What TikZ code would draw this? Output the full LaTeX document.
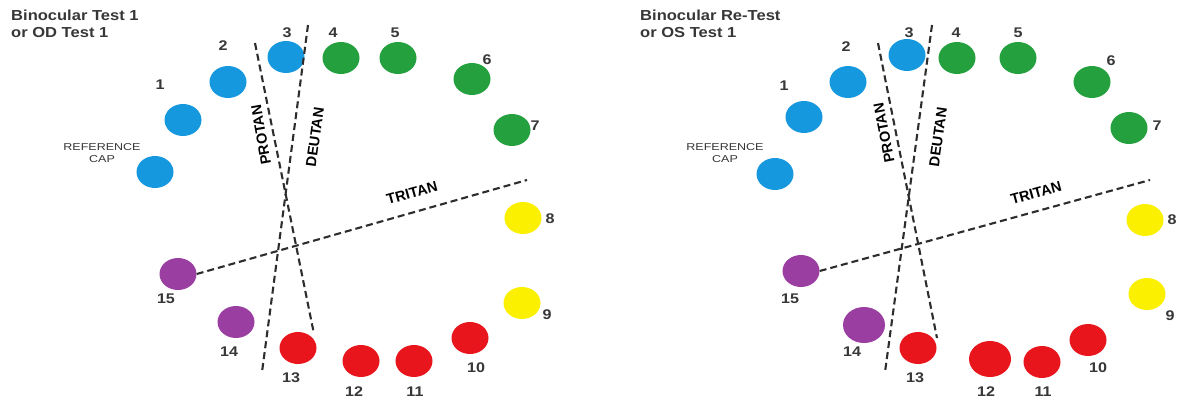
\documentclass[tikz,border=0pt]{standalone}
\usepackage{fontspec}
\setmainfont{Liberation Sans}
\usetikzlibrary{shapes.geometric}
\definecolor{capblue}{RGB}{22,152,222}
\definecolor{capgreen}{RGB}{36,160,62}
\definecolor{capyellow}{RGB}{250,240,0}
\definecolor{capred}{RGB}{232,22,28}
\definecolor{cappurple}{RGB}{155,62,162}
\definecolor{lineink}{RGB}{45,45,45}
\definecolor{txtink}{RGB}{55,55,55}
\tikzset{
  capdisc/.style={ellipse, minimum width=37pt, minimum height=32pt, inner sep=0pt},
  bigcap/.style={minimum width=42pt, minimum height=36pt},
  bluecap/.style={capdisc, fill=capblue},
  greencap/.style={capdisc, fill=capgreen},
  yellowcap/.style={capdisc, fill=capyellow},
  redcap/.style={capdisc, fill=capred},
  purplecap/.style={capdisc, fill=cappurple},
  num/.style={font=\fontsize{14}{16}\selectfont\bfseries, text=txtink, inner sep=0pt, xscale=1.15},
  ttl/.style={font=\fontsize{14.5}{17}\selectfont\bfseries, text=txtink, align=left, anchor=north west, inner sep=0pt, xscale=1.14},
  reflab/.style={font=\fontsize{10}{12.5}\selectfont, text=txtink, align=center, inner sep=0pt, xscale=1.25},
  axislab/.style={font=\fontsize{14.5}{16}\selectfont\bfseries, text=black, inner sep=0pt},
  axisline/.style={draw=lineink, line width=2.1pt, dash pattern=on 7pt off 4pt}
}
\begin{document}
\begin{tikzpicture}[x=1pt,y=-1pt]
\useasboundingbox[fill=white] (0,0) rectangle (1185,400);

% ---------------- Left panel ----------------
\node[ttl] (Lt) at (11,10) {Binocular Test 1\\or OD Test 1};
\node[bluecap] (LR) at (155,172) {};
\node[bluecap] (L1) at (183,120) {};
\node[bluecap] (L2) at (228,82) {};
\node[bluecap] (L3) at (286,57) {};
\node[greencap] (L4) at (341,58) {};
\node[greencap] (L5) at (398,58) {};
\node[greencap] (L6) at (472,79) {};
\node[greencap] (L7) at (512,130) {};
\node[yellowcap] (L8) at (523,218) {};
\node[yellowcap] (L9) at (522,303) {};
\node[redcap] (L10) at (470,338) {};
\node[redcap] (L11) at (414,361) {};
\node[redcap] (L12) at (361,361) {};
\node[redcap] (L13) at (298,348) {};
\node[purplecap] (L14) at (236,322) {};
\node[purplecap] (L15) at (178,274) {};

\node[reflab] (Lrl) at (102,153) {REFERENCE\\CAP};
\node[num] (Ln1) at (160,85) {1};
\node[num] (Ln2) at (223,46) {2};
\node[num] (Ln3) at (287,33) {3};
\node[num] (Ln4) at (333,33) {4};
\node[num] (Ln5) at (395,33) {5};
\node[num] (Ln6) at (487,60) {6};
\node[num] (Ln7) at (535,126) {7};
\node[num] (Ln8) at (550,219) {8};
\node[num] (Ln9) at (547,315) {9};
\node[num] (Ln10) at (476,368) {10};
\node[num] (Ln11) at (415,392) {11};
\node[num] (Ln12) at (354,392) {12};
\node[num] (Ln13) at (291,378) {13};
\node[num] (Ln14) at (229,352) {14};
\node[num] (Ln15) at (166,299) {15};

\coordinate (LpT) at (255,43);
\coordinate (LpB) at (314,334);
\coordinate (LdT) at (308,25);
\coordinate (LdB) at (262,372);
\coordinate (LtE) at (527,180);
\draw[axisline] (LpT) -- (LpB);
\draw[axisline] (LdT) -- (LdB);
\draw[axisline] (L15.east) -- (LtE);
\node[axislab, rotate=100] (Lpl) at (261,135) {PROTAN};
\node[axislab, rotate=82] (Ldl) at (315,137) {DEUTAN};
\node[axislab, rotate=15.5] (Ltl) at (412,193) {TRITAN};

% ---------------- Right panel ----------------
\node[ttl] (Rt) at (640,10) {Binocular Re-Test\\or OS Test 1};
\node[bluecap] (RR) at (775,174) {};
\node[bluecap] (R1) at (804,117) {};
\node[bluecap] (R2) at (848,82) {};
\node[bluecap] (R3) at (907,55) {};
\node[greencap] (R4) at (957,58) {};
\node[greencap] (R5) at (1018,58) {};
\node[greencap] (R6) at (1092,82) {};
\node[greencap] (R7) at (1129,128) {};
\node[yellowcap] (R8) at (1145,220) {};
\node[yellowcap] (R9) at (1147,294) {};
\node[redcap] (R10) at (1088,340) {};
\node[redcap] (R11) at (1042,362) {};
\node[redcap, bigcap] (R12) at (990,359) {};
\node[redcap] (R13) at (918,348) {};
\node[purplecap, bigcap] (R14) at (864,325) {};
\node[purplecap] (R15) at (801,271) {};

\node[reflab] (Rrl) at (725,153) {REFERENCE\\CAP};
\node[num] (Rn1) at (784,86) {1};
\node[num] (Rn2) at (846,47) {2};
\node[num] (Rn3) at (909,33) {3};
\node[num] (Rn4) at (956,33) {4};
\node[num] (Rn5) at (1018,33) {5};
\node[num] (Rn6) at (1111,61) {6};
\node[num] (Rn7) at (1157,126) {7};
\node[num] (Rn8) at (1172,220) {8};
\node[num] (Rn9) at (1170,316) {9};
\node[num] (Rn10) at (1098,368) {10};
\node[num] (Rn11) at (1043,392) {11};
\node[num] (Rn12) at (986,392) {12};
\node[num] (Rn13) at (915,378) {13};
\node[num] (Rn14) at (852,352) {14};
\node[num] (Rn15) at (790,299) {15};

\coordinate (RpT) at (878,43);
\coordinate (RpB) at (937,338);
\coordinate (RdT) at (932,25);
\coordinate (RdB) at (885,372);
\coordinate (RtE) at (1150,180);
\draw[axisline] (RpT) -- (RpB);
\draw[axisline] (RdT) -- (RdB);
\draw[axisline] (R15.east) -- (RtE);
\node[axislab, rotate=101] (Rpl) at (884,133) {PROTAN};
\node[axislab, rotate=82] (Rdl) at (938,137) {DEUTAN};
\node[axislab, rotate=15.5] (Rtl) at (1036,193) {TRITAN};
\end{tikzpicture}
\end{document}
